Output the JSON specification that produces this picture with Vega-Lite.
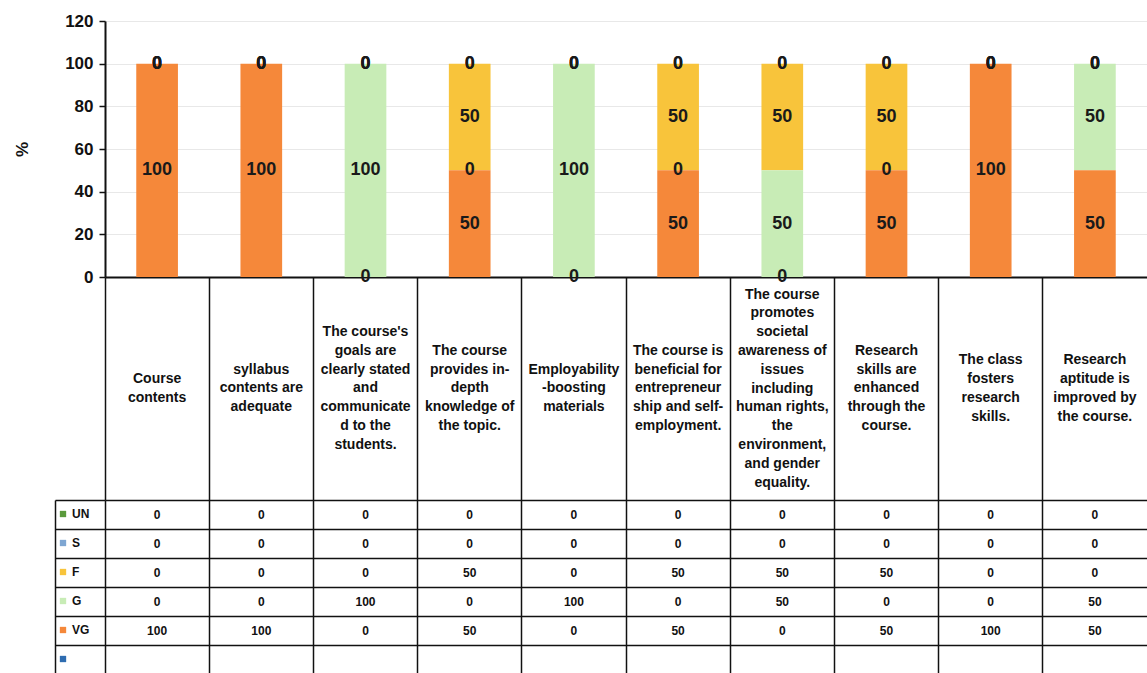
{
  "$schema": "https://vega.github.io/schema/vega-lite/v6.json",
  "background": "white",
  "padding": {"left": 13, "top": 12, "right": 0, "bottom": 0},
  "config": {
    "view": {"stroke": null},
    "font": "Liberation Sans",
    "text": {"font": "Liberation Sans"},
    "axis": {"labelFont": "Liberation Sans", "titleFont": "Liberation Sans"},
    "legend": {"labelFont": "Liberation Sans"}
  },
  "data": {
    "values": [
      {"c": "Course\ncontents", "UN": 0, "S": 0, "F": 0, "G": 0, "VG": 100},
      {"c": "syllabus\ncontents are\nadequate", "UN": 0, "S": 0, "F": 0, "G": 0, "VG": 100},
      {"c": "The course's\ngoals are\nclearly stated\nand\ncommunicate\nd to the\nstudents.", "UN": 0, "S": 0, "F": 0, "G": 100, "VG": 0},
      {"c": "The course\nprovides in-\ndepth\nknowledge of\nthe topic.", "UN": 0, "S": 0, "F": 50, "G": 0, "VG": 50},
      {"c": "Employability\n-boosting\nmaterials", "UN": 0, "S": 0, "F": 0, "G": 100, "VG": 0},
      {"c": "The course is\nbeneficial for\nentrepreneur\nship and self-\nemployment.", "UN": 0, "S": 0, "F": 50, "G": 0, "VG": 50},
      {"c": "The course\npromotes\nsocietal\nawareness of\nissues\nincluding\nhuman rights,\nthe\nenvironment,\nand gender\nequality.", "UN": 0, "S": 0, "F": 50, "G": 50, "VG": 0},
      {"c": "Research\nskills are\nenhanced\nthrough the\ncourse.", "UN": 0, "S": 0, "F": 50, "G": 0, "VG": 50},
      {"c": "The class\nfosters\nresearch\nskills.", "UN": 0, "S": 0, "F": 0, "G": 0, "VG": 100},
      {"c": "Research\naptitude is\nimproved by\nthe course.", "UN": 0, "S": 0, "F": 0, "G": 50, "VG": 50}
    ]
  },
  "spacing": 0,
  "bounds": "flush",
  "vconcat": [
    {
      "width": 1042,
      "height": 256,
      "transform": [
        {"fold": ["UN", "S", "F", "G", "VG"], "as": ["s", "v"]},
        {"calculate": "indexof(['VG','G','F','S','UN'], datum.s)", "as": "k"},
        {"stack": "v", "groupby": ["c"], "sort": [{"field": "k", "order": "ascending"}], "as": ["v0", "v1"]},
        {"calculate": "(datum.v0 + datum.v1) / 2", "as": "vm"}
      ],
      "encoding": {
        "x": {
          "field": "c", "type": "nominal", "sort": null,
          "scale": {"type": "band", "paddingInner": 0, "paddingOuter": 0},
          "axis": {"labels": false, "ticks": false, "title": null, "grid": false, "domainColor": "#111", "domainWidth": 2}
        }
      },
      "layer": [
        {
          "mark": {"type": "bar", "width": {"band": 0.4}},
          "encoding": {
            "y": {
              "field": "v0", "type": "quantitative", "title": "%",
              "scale": {"domain": [0, 120], "nice": false},
              "axis": {
                "values": [0, 20, 40, 60, 80, 100, 120],
                "labelFontSize": 17, "labelFontWeight": "bold", "labelColor": "#111", "labelPadding": 6,
                "tickColor": "#111", "tickSize": 6, "tickWidth": 1.5,
                "domainColor": "#111", "domainWidth": 2,
                "grid": true, "gridColor": "#e8e8e8",
                "titleFontSize": 17, "titleFontWeight": "bold", "titleColor": "#111", "titlePadding": 33
              }
            },
            "y2": {"field": "v1"},
            "color": {
              "field": "s", "type": "nominal",
              "scale": {
                "domain": ["UN", "S", "F", "G", "VG", " "],
                "range": ["#5a9a3c", "#7ea6d2", "#f8c43b", "#c8ecb6", "#f5883a", "#2e6cb0"]
              },
              "legend": {
                "orient": "none", "legendX": -48, "legendY": 487,
                "title": null, "symbolType": "square", "symbolSize": 40, "symbolStrokeWidth": 0,
                "labelFontSize": 12, "labelFontWeight": "bold", "labelColor": "#111",
                "rowPadding": 17, "padding": 0, "labelOffset": 3
              }
            }
          }
        },
        {
          "mark": {"type": "text", "fontSize": 18, "fontWeight": "bold", "baseline": "middle", "color": "#1a1a1a"},
          "encoding": {
            "y": {"field": "vm", "type": "quantitative", "title": "%"},
            "text": {"field": "v", "type": "quantitative"}
          }
        }
      ]
    },
    {
      "width": 1042,
      "height": 223,
      "transform": [
        {"calculate": "(length(split(datum.c, '\\n')) - 1) / 2", "as": "yo"}
      ],
      "mark": {"type": "text", "fontSize": 14, "fontWeight": "bold", "lineBreak": "\n", "lineHeight": 18.8, "align": "center", "baseline": "middle", "color": "#111"},
      "encoding": {
        "x": {
          "field": "c", "type": "nominal", "sort": null,
          "scale": {"type": "band", "paddingInner": 0, "paddingOuter": 0},
          "axis": {"labels": false, "ticks": false, "domain": false, "title": null, "grid": true, "gridColor": "#111", "gridWidth": 1.5, "bandPosition": 0}
        },
        "y": {
          "field": "yo", "type": "quantitative",
          "scale": {"domain": [-5.931, 5.931], "nice": false, "zero": false},
          "axis": null
        },
        "text": {"field": "c", "type": "nominal"}
      }
    },
    {
      "width": 1042,
      "height": 174,
      "transform": [{"fold": ["UN", "S", "F", "G", "VG"], "as": ["s", "v"]}],
      "mark": {"type": "text", "fontSize": 12, "fontWeight": "bold", "color": "#111", "baseline": "middle"},
      "encoding": {
        "x": {
          "field": "c", "type": "nominal", "sort": null,
          "scale": {"type": "band", "paddingInner": 0, "paddingOuter": 0},
          "axis": {"labels": false, "ticks": false, "domain": false, "title": null, "grid": true, "gridColor": "#111", "gridWidth": 1.5, "bandPosition": 0}
        },
        "y": {
          "field": "s", "type": "nominal",
          "scale": {"type": "band", "domain": ["UN", "S", "F", "G", "VG", " "], "paddingInner": 0, "paddingOuter": 0},
          "axis": {
            "labels": false, "title": null, "offset": 50,
            "domainColor": "#111", "domainWidth": 1.5,
            "ticks": true, "tickSize": -50, "tickColor": "#111", "tickWidth": 1.5,
            "bandPosition": 0,
            "grid": true, "gridColor": "#111", "gridWidth": 1.5
          }
        },
        "text": {"field": "v", "type": "quantitative"}
      }
    }
  ]
}
